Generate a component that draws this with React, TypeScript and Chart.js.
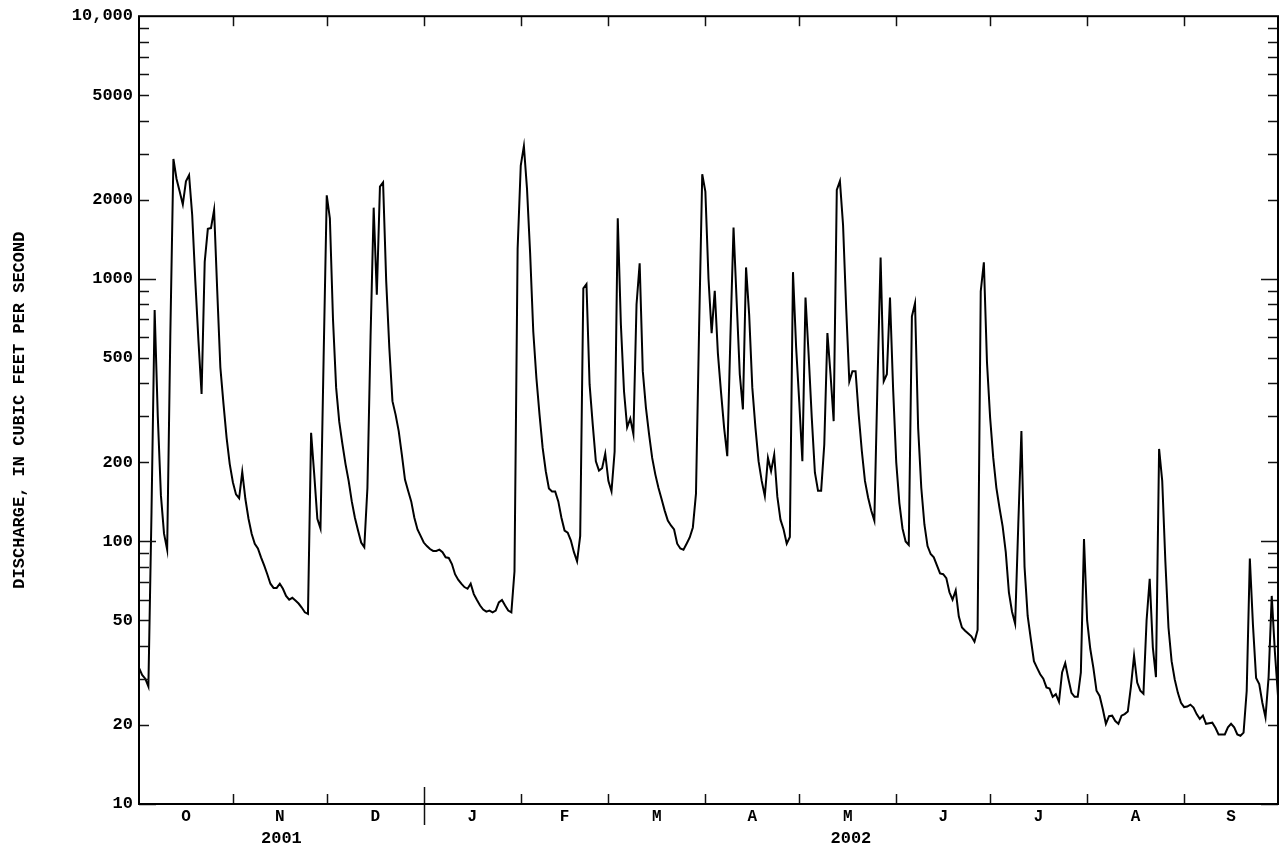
import React, { useEffect, useRef } from "react";
import { Chart, registerables } from "chart.js";

Chart.register(...registerables);

// Daily mean discharge, water year 2002 (Oct 2001 - Sep 2002), cubic feet per second
const OCT = [33, 31, 30, 28, 130, 760, 300, 150, 107, 93, 600, 2860, 2400, 2150, 1920, 2350, 2480, 1750, 980, 580, 364, 1160, 1550, 1560, 1830, 900, 460, 334, 248, 197, 168];
const NOV = [151, 146, 184, 145, 122, 107, 98, 94, 87, 81, 75, 69, 66.5, 66.5, 69, 66, 62, 60, 61, 59.5, 58, 56, 53.7, 53, 259, 180, 122, 112, 500, 2080];
const DEC = [1700, 700, 385, 285, 235, 197, 170, 142, 123, 110, 99, 95, 160, 600, 1866, 869, 2244, 2330, 980, 545, 342, 304, 263, 214, 172, 156, 142, 123, 111, 105, 99];
const JAN = [96, 93.5, 92, 92, 93, 91, 87, 86.5, 82, 75, 71.5, 69, 67, 66, 69, 63, 59.8, 57, 55, 54, 54.5, 53.7, 54.5, 58.6, 59.8, 57, 54.5, 53.7, 77, 1300, 2700];
const FEB = [3200, 2200, 1250, 630, 419, 304, 227, 185, 159, 155, 155, 142, 123, 110, 108, 101, 91, 84, 105, 920, 955, 396, 279, 202, 186, 190, 216, 170];
const MAR = [155, 220, 1700, 670, 373, 272, 294, 256, 798, 1145, 445, 323, 256, 208, 180, 160, 145, 131, 120, 115, 111, 98, 94, 93, 98, 103.5, 113, 152, 650, 2500, 2148];
const APR = [1000, 621, 900, 520, 370, 270, 211, 600, 1567, 820, 432, 318, 1105, 729, 385, 271, 202, 170, 149, 208, 185, 214, 148, 121, 111, 98, 104, 1060, 550, 340];
const MAY = [202, 849, 514, 296, 183, 156, 156, 234, 621, 432, 287, 2180, 2356, 1603, 773, 407, 445, 445, 304, 221, 170, 147, 131, 120, 400, 1205, 407, 433, 849, 380, 200];
const JUN = [140, 112, 100, 97, 719, 807, 270, 160, 116, 96, 89.5, 87, 81, 75.5, 75, 72.5, 64, 60, 65, 51.7, 47, 45.7, 44.6, 43.5, 41.5, 46, 896, 1156, 480, 296];
const JUL = [208, 160, 134, 114, 91, 64, 54, 48.6, 116, 263, 80, 52, 42.5, 35, 33, 31.2, 30, 27.8, 27.5, 25.6, 26.2, 24.5, 31.7, 34.4, 30, 26.5, 25.6, 25.6, 31.7, 102, 50];
const AUG = [39, 33, 27, 25.8, 23, 20.2, 21.6, 21.7, 20.7, 20.2, 21.7, 22, 22.5, 28, 36.7, 29, 27, 26.3, 50, 72, 39.5, 30.4, 225, 170, 84, 47, 35, 29.8, 26.5, 24.3, 23.4];
const SEP = [23.5, 23.9, 23.3, 22, 21.1, 21.7, 20.2, 20.3, 20.4, 19.5, 18.4, 18.4, 18.4, 19.6, 20.2, 19.6, 18.4, 18.2, 18.7, 27, 86, 48, 30.2, 28.6, 24.3, 21.4, 30.5, 62, 38, 25.8];

const MONTHS = [OCT, NOV, DEC, JAN, FEB, MAR, APR, MAY, JUN, JUL, AUG, SEP];
const MONTH_LABELS = ["O", "N", "D", "J", "F", "M", "A", "M", "J", "J", "A", "S"];
const YEAR_LABELS = ["2001", "2002"];
const MONTHS_IN_FIRST_YEAR = 3;
const Y_LABEL_TICKS = [10, 20, 50, 100, 200, 500, 1000, 2000, 5000, 10000];
const Y_TITLE = "DISCHARGE, IN CUBIC FEET PER SECOND";

const FONT = '"Liberation Mono", "DejaVu Sans Mono", monospace';

export default function App() {
  const ref = useRef<HTMLCanvasElement>(null);

  useEffect(() => {
    const values = MONTHS.flat();
    const points = values.map((v, i) => ({ x: i + 1, y: v }));
    const ends: number[] = [];
    let acc = 0;
    MONTHS.forEach((m) => {
      acc += m.length;
      ends.push(acc);
    });
    const starts = [1, ...ends.slice(0, -1)];
    const monthCenters = ends.map((e, i) => (starts[i] + e) / 2);
    const yearSplit = ends[MONTHS_IN_FIRST_YEAR - 1];
    const yearCenters = [(1 + yearSplit) / 2, (yearSplit + acc) / 2];
    const minorY: number[] = [];
    for (let e = 10; e < 10000; e *= 10) for (let m = 1; m < 10; m++) minorY.push(m * e);

    const framePlugin = {
      id: "frameTicks",
      afterDraw(chart: any) {
        const { ctx, chartArea } = chart;
        const { left, right, top, bottom } = chartArea;
        const xs = chart.scales.x;
        const ys = chart.scales.y;
        ctx.save();
        ctx.strokeStyle = "#111";
        ctx.lineWidth = 1.5;
        const seg = (x1: number, y1: number, x2: number, y2: number) => {
          ctx.beginPath();
          ctx.moveTo(x1, y1);
          ctx.lineTo(x2, y2);
          ctx.stroke();
        };
        minorY.forEach((v) => {
          const py = Math.round(ys.getPixelForValue(v)) + 0.5;
          const decade = [10, 100, 1000].includes(v);
          const len = decade ? 17 : 10;
          seg(left, py, left + len, py);
          seg(right, py, right - len, py);
        });
        ends.slice(0, -1).forEach((b) => {
          const px = Math.round(xs.getPixelForValue(b)) + 0.5;
          if (b === yearSplit) {
            seg(px, bottom - 17, px, bottom + 21);
          } else {
            seg(px, bottom, px, bottom - 10);
          }
          seg(px, top, px, top + 10);
        });
        ctx.strokeStyle = "#000";
        ctx.lineWidth = 2;
        ctx.strokeRect(left, top, right - left, bottom - top);
        ctx.restore();
      },
    };

    const tickFont = { family: FONT, size: 17, weight: "bold" as const };
    const monthFont = { family: FONT, size: 16, weight: "bold" as const };

    const chart = new Chart(ref.current as HTMLCanvasElement, {
      type: "line",
      data: {
        datasets: [
          {
            data: points,
            borderColor: "#000",
            borderWidth: 2,
            pointRadius: 0,
            tension: 0,
            fill: false,
          },
        ],
      },
      options: {
        animation: false,
        responsive: false,
        maintainAspectRatio: false,
        layout: { padding: { left: 0, right: 2, top: 14, bottom: 0 } },
        plugins: { legend: { display: false }, tooltip: { enabled: false } },
        scales: {
          x: {
            type: "linear",
            min: 1,
            max: acc,
            position: "bottom",
            weight: 0,
            grid: { display: false, drawTicks: false },
            border: { display: false },
            afterBuildTicks: (s: any) => {
              s.ticks = monthCenters.map((v) => ({ value: v }));
            },
            afterFit: (s: any) => {
              s.height = 24;
            },
            ticks: {
              autoSkip: false,
              maxRotation: 0,
              padding: 3,
              color: "#000",
              font: monthFont,
              callback: (_v: any, i: number) => MONTH_LABELS[i],
            },
          },
          x2: {
            type: "linear",
            min: 1,
            max: acc,
            position: "bottom",
            weight: 1,
            grid: { display: false, drawTicks: false },
            border: { display: false },
            afterBuildTicks: (s: any) => {
              s.ticks = yearCenters.map((v) => ({ value: v }));
            },
            afterFit: (s: any) => {
              s.height = 27;
            },
            ticks: {
              autoSkip: false,
              maxRotation: 0,
              padding: 1,
              color: "#000",
              font: tickFont,
              callback: (_v: any, i: number) => YEAR_LABELS[i],
            },
          },
          y: {
            type: "logarithmic",
            min: 10,
            max: 10000,
            position: "left",
            grid: { display: false, drawTicks: false },
            border: { display: false },
            afterBuildTicks: (s: any) => {
              s.ticks = Y_LABEL_TICKS.map((v) => ({ value: v }));
            },
            afterFit: (s: any) => {
              s.width = 139;
            },
            ticks: {
              autoSkip: false,
              padding: 6,
              color: "#000",
              font: tickFont,
              callback: (v: any) => (Number(v) === 10000 ? "10,000" : String(v)),
            },
            title: {
              display: true,
              text: Y_TITLE,
              color: "#000",
              font: { family: FONT, size: 17, weight: "bold" },
              padding: { top: 10, bottom: 0 },
            },
          },
        },
      },
      plugins: [framePlugin],
    });
    return () => chart.destroy();
  }, []);

  return (
    <div style={{ position: "absolute", left: 0, top: 0, width: 1280, height: 855, background: "#fff" }}>
      <canvas ref={ref} width={1280} height={855} style={{ display: "block" }} />
    </div>
  );
}
